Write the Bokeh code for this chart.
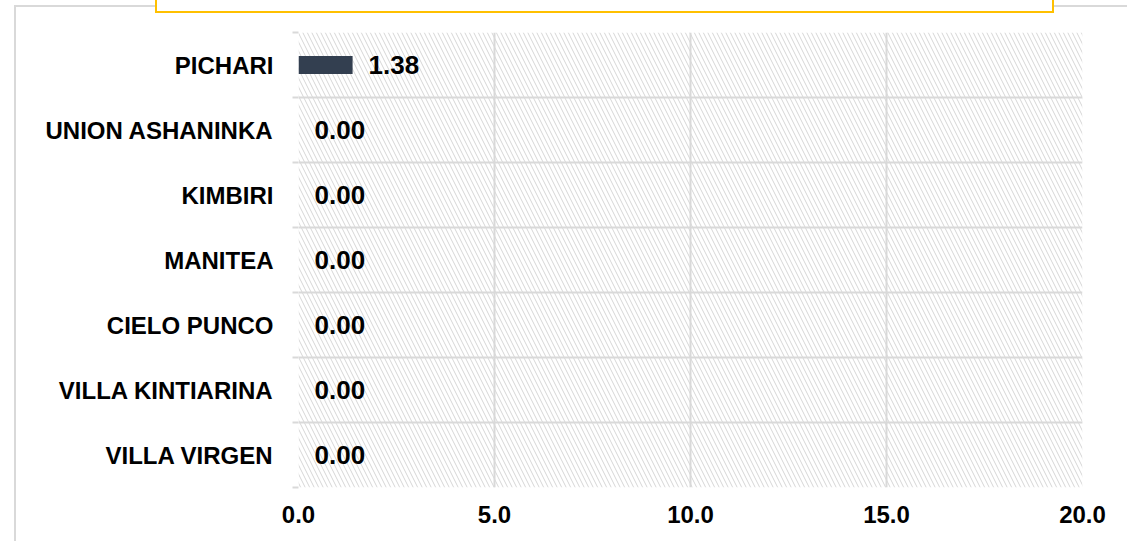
from bokeh.plotting import figure
from bokeh.models import Range1d, FixedTicker, BoxAnnotation, ColumnDataSource, Div
from bokeh.embed import file_html
from bokeh.resources import INLINE
from bokeh.core.properties import value

categories = ["PICHARI", "UNION ASHANINKA", "KIMBIRI", "MANITEA",
              "CIELO PUNCO", "VILLA KINTIARINA", "VILLA VIRGEN"]
values = [1.38, 0.00, 0.00, 0.00, 0.00, 0.00, 0.00]
x_ticks = [0, 5, 10, 15, 20]
x_tick_labels = ["0.0", "5.0", "10.0", "15.0", "20.0"]

FONT = value("Liberation Sans")
n = len(categories)
ypos = [n - i - 0.5 for i in range(n)]
bounds = [float(i) for i in range(n + 1)]

src = ColumnDataSource(dict(
    y=ypos, v=values, cat=categories,
    lab=["{:.2f}".format(v) for v in values],
))

p = figure(frame_width=784, frame_height=455,
           x_range=Range1d(0, 20), y_range=Range1d(0, n),
           output_backend="svg", toolbar_location=None,
           min_border_left=298, min_border_right=45,
           min_border_top=32, min_border_bottom=54)
p.background_fill_color = "white"
p.border_fill_color = "white"
p.outline_line_color = None

# hatched plot area background
p.add_layout(BoxAnnotation(fill_alpha=0, line_color=None,
                           hatch_pattern="\\", hatch_color="#d6d6d6",
                           hatch_scale=9, hatch_weight=1, level="image"))

p.hbar(y="y", right="v", left=0, height=0.28, fill_color="#333f50",
       line_color=None, source=src)
p.text(x="v", y="y", text="lab", x_offset=16, text_align="left",
       text_baseline="middle", text_font=FONT, text_font_style="bold",
       text_font_size="26px", text_color="#000000", source=src)

# x axis
p.xaxis.ticker = FixedTicker(ticks=x_ticks)
p.xaxis.major_label_overrides = {t: l for t, l in zip(x_ticks, x_tick_labels)}
p.xaxis.axis_line_color = None
p.xaxis.major_tick_line_color = None
p.xaxis.minor_tick_line_color = None
p.xaxis.major_label_text_font = "Liberation Sans"
p.xaxis.major_label_text_font_style = "bold"
p.xaxis.major_label_text_font_size = "24px"
p.xaxis.major_label_text_color = "#000000"
p.xaxis.major_label_standoff = 12

# y axis
p.yaxis.ticker = FixedTicker(ticks=ypos, minor_ticks=bounds)
p.yaxis.major_label_overrides = {y: c for y, c in zip(ypos, categories)}
p.yaxis.axis_line_color = None
p.yaxis.major_tick_line_color = None
p.yaxis.minor_tick_out = 6
p.yaxis.minor_tick_in = 0
p.yaxis.minor_tick_line_color = "#d9d9d9"
p.yaxis.minor_tick_line_width = 2
p.yaxis.major_label_text_font = "Liberation Sans"
p.yaxis.major_label_text_font_style = "bold"
p.yaxis.major_label_text_font_size = "24px"
p.yaxis.major_label_text_color = "#000000"
p.yaxis.major_label_standoff = 19

# grids
p.xgrid.grid_line_color = "#d9d9d9"
p.xgrid.grid_line_width = 2
p.ygrid.ticker = FixedTicker(ticks=bounds)
p.ygrid.grid_line_color = "#d9d9d9"
p.ygrid.grid_line_width = 2

# decorative outer frame and title box edge
def seg(l, t, w, h, c):
    return ('<div style="position:absolute;left:%dpx;top:%dpx;width:%dpx;'
            'height:%dpx;background:%s"></div>' % (l, t, w, h, c))

html = ('<div style="position:absolute;left:0;top:0;width:1127px;height:541px">'
        + seg(14, 5, 2, 536, "#d9d9d9")
        + seg(14, 5, 141, 2, "#d9d9d9")
        + seg(1054, 5, 73, 2, "#d9d9d9")
        + seg(155, 0, 2, 13, "#ffc000")
        + seg(155, 11, 899, 2, "#ffc000")
        + seg(1052, 0, 2, 13, "#ffc000")
        + '</div>')
deco = Div(text=html, width=1127, height=541, margin=0,
           styles={"position": "absolute", "top": "0px", "left": "0px",
                   "pointer-events": "none"})

open("out.html", "w").write(file_html([p, deco], INLINE))
